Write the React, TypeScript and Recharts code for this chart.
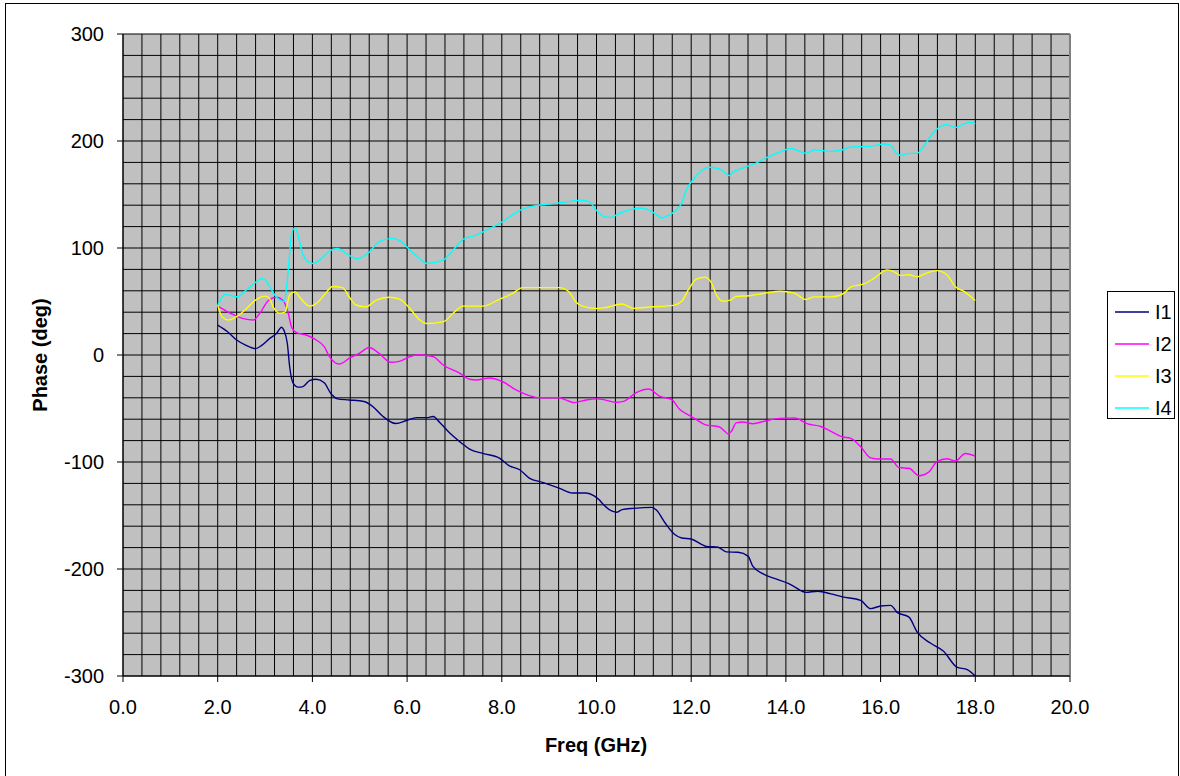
import React from 'react';
import {
    LineChart, Line, XAxis, YAxis, CartesianGrid, ReferenceLine
} from 'recharts';

// frequency (GHz) / phase (deg) pairs
const I1_FREQ = [2.0, 2.2, 2.4, 2.6, 2.8, 2.93, 3.1, 3.24, 3.35, 3.4, 3.47, 3.52, 3.59, 3.7, 3.8, 3.94, 4.08, 4.25, 4.39, 4.53, 4.78, 5.09, 5.27, 5.48, 5.76, 6.0, 6.2, 6.41, 6.55, 6.69, 6.9, 7.14, 7.32, 7.6, 7.95, 8.16, 8.37, 8.58, 8.86, 9.21, 9.49, 9.78, 9.95, 10.05, 10.15, 10.33, 10.43, 10.54, 10.78, 11.17, 11.27, 11.45, 11.66, 11.8, 12.0, 12.32, 12.57, 12.74, 12.99, 13.2, 13.3, 13.51, 13.79, 14.06, 14.18, 14.42, 14.67, 14.95, 15.19, 15.58, 15.79, 16.0, 16.21, 16.35, 16.6, 16.77, 17.05, 17.33, 17.61, 17.83, 18.0];
const I1_PHASE = [28, 22, 14, 9, 6, 9, 15.5, 20, 26, 23, 11, -11, -26, -30, -29.5, -24, -22.7, -26, -36, -41, -42, -43.5, -48, -57, -64, -61, -58.5, -58.5, -57.5, -63, -73, -82, -88, -92, -96.4, -103.6, -107, -115, -119, -124.4, -129, -129, -131.6, -135, -140, -146, -147, -144.5, -143.3, -142.4, -145, -157, -168, -171, -172, -178.8, -179.7, -184, -184.4, -188, -197.3, -204.3, -209.3, -213.7, -216.6, -221.8, -220.8, -223.2, -226, -229.4, -237, -234.6, -234, -240.5, -245, -258.8, -269.2, -276.8, -291.7, -294.1, -300];

const I2_FREQ = [2.0, 2.27, 2.54, 2.75, 2.89, 3.07, 3.24, 3.38, 3.49, 3.56, 3.66, 3.87, 4.08, 4.25, 4.36, 4.57, 4.78, 4.99, 5.2, 5.41, 5.65, 5.83, 6.06, 6.23, 6.55, 6.76, 7.11, 7.32, 7.46, 7.74, 8.02, 8.3, 8.58, 8.79, 9.21, 9.35, 9.53, 9.78, 10.02, 10.15, 10.4, 10.57, 10.85, 11.1, 11.34, 11.59, 11.76, 11.97, 12.11, 12.29, 12.6, 12.71, 12.78, 12.85, 12.95, 13.09, 13.3, 13.58, 13.86, 14.18, 14.46, 14.74, 14.95, 15.19, 15.37, 15.58, 15.79, 15.93, 16.21, 16.39, 16.6, 16.81, 17.02, 17.19, 17.4, 17.58, 17.79, 18.0];
const I2_PHASE = [45.7, 39, 34, 32.7, 39, 51, 54, 51, 39, 26, 21, 18.7, 14, 7.8, -1.5, -8.4, -3, 1.5, 7, 1.5, -6.8, -6, -1.5, 0.3, -1.5, -9.3, -17, -22.7, -23.3, -21.5, -25, -32.7, -38, -40, -40, -42, -44.5, -42, -41, -41.7, -44.2, -43.3, -34.9, -31.8, -38.6, -41.7, -51, -56.7, -60.4, -65, -67.3, -71.3, -73.8, -71.3, -63.5, -62.6, -64.2, -61.4, -59.2, -58.8, -64.4, -66.8, -71.3, -76.5, -77.9, -85.8, -96.2, -97.2, -97.2, -105.2, -105.9, -112.8, -109.3, -99.7, -96.9, -99, -92, -94.5];

const I3_FREQ = [2.0, 2.09, 2.23, 2.4, 2.61, 2.82, 3.0, 3.09, 3.17, 3.31, 3.42, 3.52, 3.63, 3.73, 3.94, 4.08, 4.25, 4.43, 4.64, 4.78, 4.92, 5.13, 5.34, 5.62, 5.85, 6.06, 6.27, 6.41, 6.76, 6.97, 7.18, 7.6, 7.95, 8.23, 8.44, 8.79, 9.21, 9.42, 9.56, 9.7, 10.0, 10.15, 10.54, 10.78, 11.13, 11.62, 11.8, 11.94, 12.11, 12.29, 12.43, 12.53, 12.67, 12.85, 12.95, 13.23, 13.58, 13.88, 14.18, 14.42, 14.6, 14.95, 15.23, 15.37, 15.65, 15.86, 16.14, 16.28, 16.42, 16.6, 16.77, 16.98, 17.19, 17.4, 17.58, 17.76, 18.0];
const I3_PHASE = [46.7, 35.8, 32.7, 35.8, 43.5, 52, 55, 53, 45, 39, 40, 56, 59, 54, 45.7, 48, 56, 64, 63, 54, 46.7, 45, 51, 54, 52, 43.5, 32.7, 29.5, 31, 39, 45.7, 45.7, 52, 57.5, 63, 63, 63, 59, 49.8, 45.7, 43.5, 44, 47.7, 43.6, 44.9, 46.4, 50.2, 61, 71, 72.6, 67.3, 56.4, 50.2, 51.7, 54.8, 55.4, 58, 59.6, 57.8, 51.9, 54.3, 54.3, 57.8, 63.7, 66.4, 71.6, 79.6, 77.9, 74.4, 75, 73, 76.8, 78.9, 75, 63.7, 59.5, 50.9];

const I4_FREQ = [2.0, 2.16, 2.4, 2.61, 2.8, 2.93, 3.03, 3.14, 3.24, 3.4, 3.46, 3.5, 3.56, 3.63, 3.68, 3.77, 3.87, 4.01, 4.15, 4.39, 4.53, 4.71, 4.95, 5.2, 5.4, 5.69, 5.86, 6.06, 6.27, 6.41, 6.76, 6.97, 7.18, 7.46, 7.67, 7.95, 8.16, 8.37, 8.65, 9.0, 9.35, 9.7, 9.85, 10.0, 10.15, 10.29, 10.5, 10.71, 10.92, 11.13, 11.27, 11.38, 11.48, 11.69, 11.8, 11.9, 12.04, 12.25, 12.39, 12.6, 12.74, 12.81, 12.88, 13.09, 13.37, 13.65, 13.86, 14.1, 14.42, 14.6, 14.95, 15.19, 15.37, 15.79, 16.07, 16.21, 16.32, 16.42, 16.56, 16.77, 16.98, 17.16, 17.4, 17.58, 17.76, 17.9, 18.0];
const I4_PHASE = [46.7, 56.6, 54.4, 61, 68, 71.5, 69, 60.6, 54, 50, 65, 85, 113, 119, 115, 98, 88.6, 85.5, 88.6, 98, 99.5, 95, 90, 96, 105.7, 109, 106.5, 98, 90, 85.5, 88.6, 98, 108, 112, 116.6, 122.8, 129, 135, 139, 141, 143, 144.6, 143, 135, 129.6, 128.6, 132.7, 135.8, 137.4, 135, 131, 128, 129.6, 135.8, 142, 154.5, 163.8, 173.2, 175.4, 173.8, 169.5, 167.6, 170.7, 174.7, 179.4, 185.7, 189.4, 193, 188.6, 191.7, 190.3, 191.7, 194.5, 195, 197.2, 196.2, 189.3, 186.5, 188.2, 188.6, 199.7, 210, 215.2, 212.5, 216, 217.3, 216];

// every grid line is a tick; only the majors get a mark and a label
const X_TICKS = Array.from({ length: 51 }, (_, i) => +(i * 0.4).toFixed(1));
const Y_TICKS = Array.from({ length: 31 }, (_, i) => -300 + i * 20);
const isMajorX = (v: number) => Math.abs(v / 2 - Math.round(v / 2)) < 1e-6;
const isMajorY = (v: number) => v % 100 === 0;

const toRows = (freq: number[], phase: number[]) => freq.map((f, i) => ({ freq: f, phase: phase[i] }));

const SERIES = [
    { name: 'I1', color: '#000080', data: toRows(I1_FREQ, I1_PHASE) },
    { name: 'I2', color: '#FF00FF', data: toRows(I2_FREQ, I2_PHASE) },
    { name: 'I3', color: '#FFFF00', data: toRows(I3_FREQ, I3_PHASE) },
    { name: 'I4', color: '#00FFFF', data: toRows(I4_FREQ, I4_PHASE) },
];

const FONT = '"Liberation Sans", Arial, sans-serif';

const XTick = (props: any) => {
    const { x, y, payload } = props;
    if (!isMajorX(payload.value)) return null;
    return (
        <g>
            <line x1={x} y1={y} x2={x} y2={y + 6} stroke="#000" />
            <text x={x} y={y + 24} dy="0.71em" textAnchor="middle" fill="#000"
                fontSize={20} fontFamily={FONT}>{payload.value.toFixed(1)}</text>
        </g>
    );
};

const YTick = (props: any) => {
    const { x, y, payload } = props;
    if (!isMajorY(payload.value)) return null;
    return (
        <g>
            <line x1={x - 6} y1={y} x2={x} y2={y} stroke="#000" />
            <text x={x - 19} y={y} dy="0.355em" textAnchor="end" fill="#000"
                fontSize={20} fontFamily={FONT}>{payload.value}</text>
        </g>
    );
};

const LegendBox = () => (
    <div style={{
        position: 'absolute', left: 1107, top: 291,
        border: '1px solid #000', background: '#fff', width: 68, height: 128,
        paddingTop: 4, boxSizing: 'border-box', fontFamily: FONT, fontSize: 20
    }}>
        {SERIES.map(s => (
            <div key={s.name} style={{ display: 'flex', alignItems: 'center', height: 32, paddingLeft: 7 }}>
                <svg width={34} height={4} style={{ marginRight: 6 }}>
                    <line x1={0} y1={2} x2={34} y2={2} stroke={s.color} strokeWidth={1.5} />
                </svg>
                <span style={{ color: '#000' }}>{s.name}</span>
            </div>
        ))}
    </div>
);

export default function App() {
    return (
        <div style={{ position: 'absolute', left: 0, top: 0, width: 1180, height: 776, background: '#fff', overflow: 'hidden' }}>
            <div style={{ position: 'absolute', left: 5, top: 3, width: 1172, height: 790, border: '1px solid #000' }} />
            <LineChart width={1180} height={776} margin={{ top: 34, right: 110, bottom: 0, left: 63 }}
                style={{ position: 'absolute', left: 0, top: 0 }}>
                <CartesianGrid stroke="#000" strokeWidth={1} fill="#C0C0C0" fillOpacity={1} />
                <XAxis dataKey="freq" type="number" domain={[0, 20]} ticks={X_TICKS} interval={0}
                    height={100} tickSize={0} tickMargin={0} tickLine={false}
                    axisLine={{ stroke: '#000' }} tick={<XTick />} />
                <YAxis type="number" domain={[-300, 300]} ticks={Y_TICKS} interval={0} width={60}
                    tickSize={0} tickMargin={0} tickLine={false}
                    axisLine={{ stroke: '#000' }} tick={<YTick />} />
                <ReferenceLine x={20} stroke="#808080" strokeWidth={2} />
                {SERIES.map(s => (
                    <Line key={s.name} data={s.data} dataKey="phase" name={s.name} type="monotone"
                        stroke={s.color} strokeWidth={1.4} dot={false} isAnimationActive={false} />
                ))}
            </LineChart>
            <LegendBox />
            <div style={{
                position: 'absolute', left: 396, width: 400, top: 733, textAlign: 'center',
                fontFamily: FONT, fontSize: 20, fontWeight: 'bold', lineHeight: '24px'
            }}>Freq (GHz)</div>
            <div style={{
                position: 'absolute', left: 40, top: 355, width: 200, marginLeft: -100, marginTop: -12,
                textAlign: 'center', transform: 'rotate(-90deg)',
                fontFamily: FONT, fontSize: 20, fontWeight: 'bold', lineHeight: '24px'
            }}>Phase (deg)</div>
        </div>
    );
}
